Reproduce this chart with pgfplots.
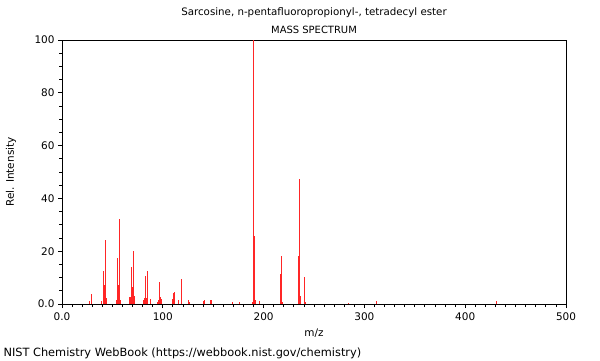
\documentclass[border=0pt]{standalone}
\usepackage{fontspec}
\setmainfont{DejaVu Sans}
\usepackage{pgfplots}
\pgfplotsset{compat=1.18}
\definecolor{specred}{rgb}{1,0.15,0.15}
\begin{document}
\begin{tikzpicture}[x=1bp,y=1bp]
\path[use as bounding box] (0,0) rectangle (600,360);
\begin{axis}[
  at={(62bp,56bp)}, anchor=south west,
  scale only axis, width=504bp, height=264bp,
  xmin=0, xmax=500, ymin=0, ymax=100,
  axis line style={black, line width=0.8bp},
  tick align=outside,
  xtick pos=bottom, ytick pos=left,
  xtick={0,100,200,300,400,500},
  xticklabels={0.0,100,200,300,400,500},
  ytick={0,20,40,60,80,100},
  yticklabels={0.0,20,40,60,80,100},
  minor x tick num=9, minor y tick num=3,
  major tick length=4bp, minor tick length=3bp,
  every tick/.style={black, line width=0.8bp},
  tick label style={font=\fontsize{10.5}{12}\selectfont},
  /pgf/number format/assume math mode=true,
  xticklabel style={yshift=-1bp},
  clip=true,
]
\addplot[ycomb, specred, line width=1bp, mark=none] coordinates {
(27,1.2) (29,3.8) (39,1.0) (41,12.4) (42,7.3) (43,24.2) (44,2.4)
(54,1.5) (55,17.4) (56,7.1) (57,32.3) (58,1.5)
(67,2.6) (68,2.6) (69,14.1) (70,6.3) (71,20.2) (72,3.0)
(81,1.5) (82,2.4) (83,10.6) (84,2.4) (85,12.5) (88,1.9)
(95,0.8) (96,1.5) (97,8.2) (98,2.6) (99,1.8)
(110,2.0) (111,4.3) (112,4.7) (116,1.5) (119,9.6) (125,1.6) (126,0.8)
(140,1.3) (141,1.4) (147,1.7) (148,1.6) (169,0.8) (176,0.6)
(189,0.8) (190,100) (191,25.9) (192,1.7) (196,1.2)
(217,11.4) (218,18.2) (219,0.8)
(235,18.2) (236,47.3) (237,3.0) (241,10.1) (242,0.8)
(284,0.3) (312,1.0) (431,1.2)
};
\end{axis}
\node[font=\fontsize{10.3}{12}\selectfont] at (314,347) {Sarcosine, n-pentafluoropropionyl-, tetradecyl ester};
\node[font=\fontsize{10}{12}\selectfont] at (314,330) {MASS SPECTRUM};
\node[font=\fontsize{10.5}{12}\selectfont] at (314,27) {m/z};
\node[font=\fontsize{10.5}{12}\selectfont, rotate=90] at (11,188) {Rel. Intensity};
\node[font=\fontsize{11.4}{13}\selectfont, anchor=west] at (0,7) {NIST Chemistry WebBook (https://webbook.nist.gov/chemistry)};
\end{tikzpicture}
\end{document}
